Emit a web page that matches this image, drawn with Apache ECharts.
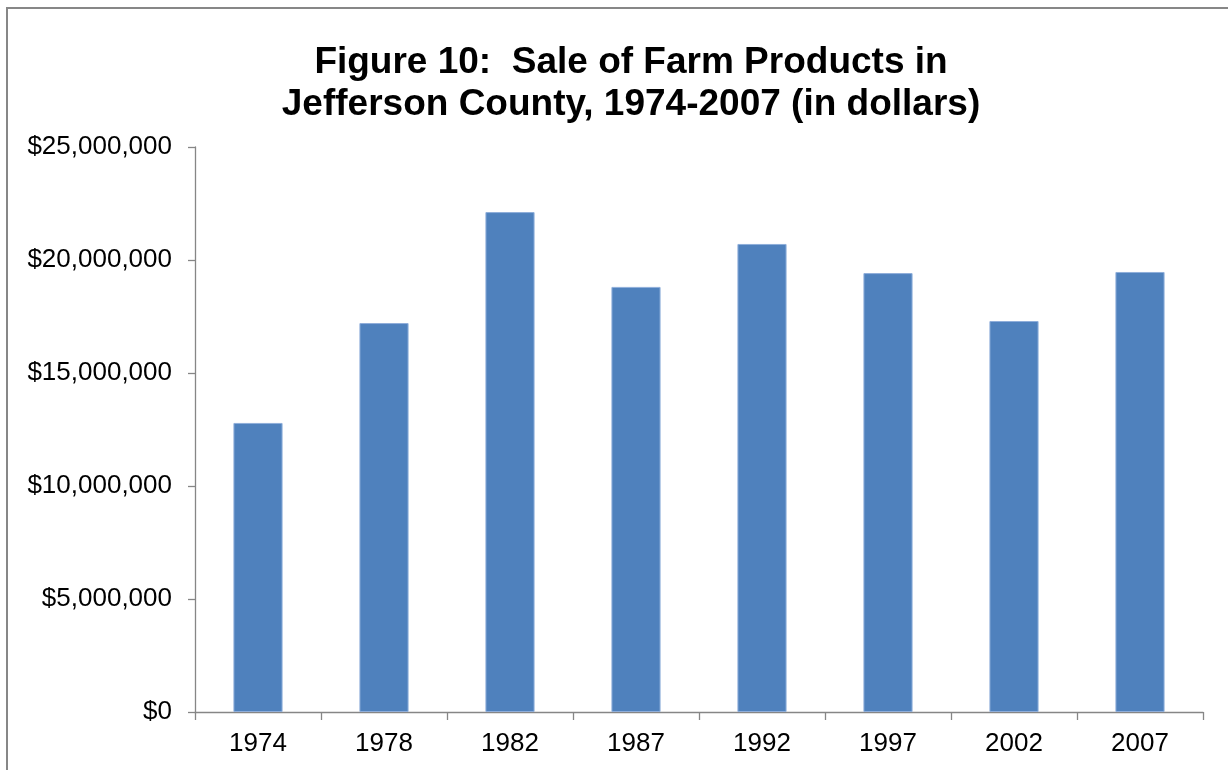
<!DOCTYPE html>
<html>
<head>
<meta charset="utf-8">
<script src="https://cdn.jsdelivr.net/npm/echarts@6/dist/echarts.min.js"></script>
<style>
  html, body { margin: 0; padding: 0; background: #fff; }
  #chart { width: 1228px; height: 770px; }
</style>
</head>
<body>
<div id="chart"></div>
<script>
// Census of Agriculture years
const years = ['1974', '1978', '1982', '1987', '1992', '1997', '2002', '2007'];
// Market value of farm products sold, dollars
const sales = [12790000, 17210000, 22120000, 18810000, 20710000, 19420000, 17300000, 19470000];
// Value axis ticks
const yTicks = [0, 5000000, 10000000, 15000000, 20000000, 25000000];

const chart = echarts.init(document.getElementById('chart'), null, { renderer: 'canvas' });

const axisGrey = '#868686';
const font = '"Liberation Sans", Arial, sans-serif';

function money(v) {
  return '$' + Math.round(v).toString().replace(/\B(?=(\d{3})+(?!\d))/g, ',');
}

chart.setOption({
  backgroundColor: '#ffffff',
  animation: false,
  graphic: [{
    type: 'rect',
    shape: { x: 7, y: 8, width: 1240, height: 790 },
    style: { fill: 'none', stroke: '#878787', lineWidth: 2 },
    silent: true
  }],
  title: {
    text: 'Figure 10:  Sale of Farm Products in\nJefferson County, 1974-2007 (in dollars)',
    left: 626,
    textAlign: 'center',
    top: 37,
    textStyle: {
      fontFamily: font,
      fontWeight: 'bold',
      fontSize: 37,
      lineHeight: 42,
      color: '#000'
    }
  },
  grid: { left: 195, right: 25, top: 147, bottom: 58, containLabel: false },
  xAxis: {
    type: 'category',
    data: years,
    boundaryGap: true,
    axisLine: { show: true, lineStyle: { color: axisGrey, width: 1.3 } },
    axisTick: { show: true, length: 8, alignWithLabel: false, lineStyle: { color: axisGrey, width: 1.3 } },
    axisLabel: { margin: 19, fontFamily: font, fontSize: 26, color: '#000' },
    splitLine: { show: false }
  },
  yAxis: {
    type: 'value',
    min: yTicks[0],
    max: yTicks[yTicks.length - 1],
    interval: yTicks[1] - yTicks[0],
    axisLine: { show: true, lineStyle: { color: axisGrey, width: 1.3 } },
    axisTick: { show: true, length: 7, lineStyle: { color: axisGrey, width: 1.3 } },
    axisLabel: { margin: 23, fontFamily: font, fontSize: 26, color: '#000', formatter: money },
    splitLine: { show: false }
  },
  series: [{
    type: 'bar',
    data: sales,
    barWidth: '39%',
    itemStyle: { color: '#4F81BD', borderColor: '#8FAEDA', borderWidth: 1 }
  }]
});
</script>
</body>
</html>
